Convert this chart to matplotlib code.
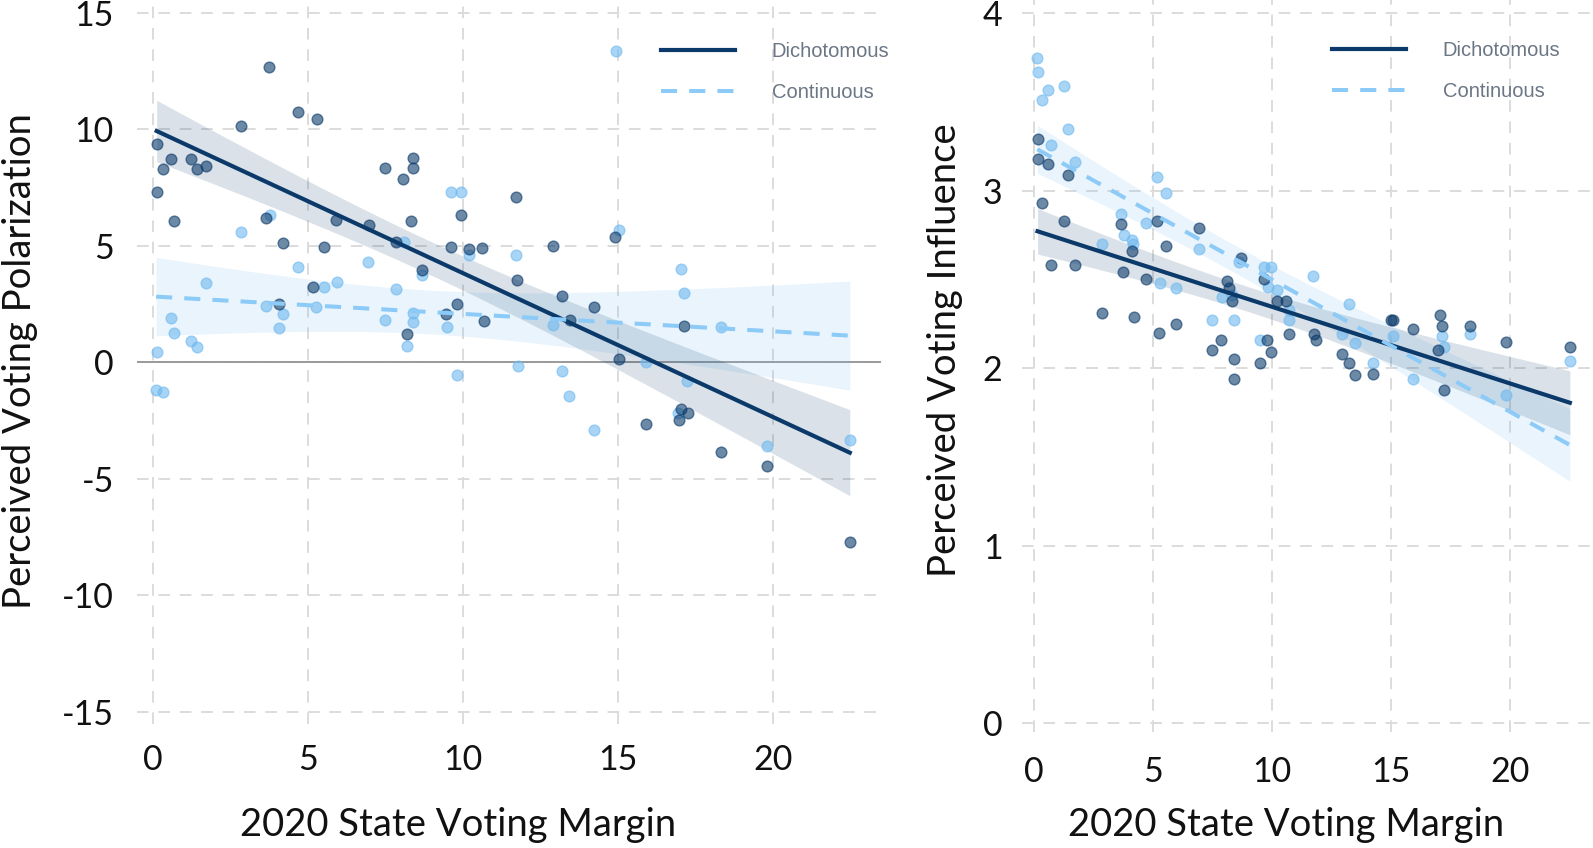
import matplotlib
matplotlib.use("Agg")
import matplotlib.pyplot as plt
import numpy as np

# ---- data ----
# left panel: perceived voting polarization vs 2020 state voting margin
pol_dich_x = [0.14, 0.31, 0.58, 1.22, 1.43, 1.70, 0.12, 0.68, 2.83, 3.75, 4.69, 5.28, 3.64,
              4.18, 5.53, 5.92, 6.96, 7.50, 8.07, 8.40, 8.40, 7.84, 8.32, 8.68, 9.63, 10.2,
              10.6, 9.94, 11.7, 11.75, 5.15, 12.91, 14.9, 13.2, 4.07, 9.80, 9.45, 10.69, 8.18,
              14.24, 13.45, 17.14, 15.03, 17.05, 17.25, 16.97, 15.89, 18.32, 19.82, 22.48]
pol_dich_y = [9.36, 8.29, 8.72, 8.72, 8.29, 8.45, 7.30, 6.06, 10.16, 12.67, 10.76, 10.45, 6.19,
              5.12, 4.97, 6.12, 5.90, 8.33, 7.86, 8.78, 8.33, 5.18, 6.06, 3.97, 4.97, 4.86,
              4.91, 6.33, 7.12, 3.54, 3.23, 5.00, 5.37, 2.87, 2.51, 2.51, 2.07, 1.78, 1.22,
              2.37, 1.82, 1.57, 0.15, -2.01, -2.18, -2.47, -2.65, -3.85, -4.43, -7.69]
pol_cont_x = [3.77, 2.83, 1.71, 4.69, 5.53, 5.95, 6.95, 7.84, 8.11, 9.63, 9.94, 10.19, 11.7,
              8.68, 14.93, 15.04, 17.03, 17.13, 3.64, 4.18, 5.26, 0.58, 0.68, 1.22, 1.43, 0.14,
              4.07, 7.50, 8.40, 8.40, 8.18, 9.47, 9.80, 0.10, 0.31, 11.78, 12.91, 18.32, 13.2,
              15.89, 17.24, 13.43, 14.24, 16.95, 19.82, 22.48]
pol_cont_y = [6.33, 5.59, 3.43, 4.11, 3.23, 3.47, 4.31, 3.15, 5.18, 7.30, 7.30, 4.61, 4.61,
              3.76, 13.38, 5.69, 4.03, 2.97, 2.44, 2.08, 2.40, 1.92, 1.25, 0.92, 0.68, 0.46,
              1.47, 1.82, 2.14, 1.75, 0.72, 1.51, -0.54, -1.18, -1.28, -0.15, 1.61, 1.54, -0.35,
              0.03, -0.78, -1.44, -2.90, -2.18, -3.57, -3.33]

# right panel: perceived voting influence vs 2020 state voting margin
inf_dich_x = [0.15, 0.18, 0.60, 1.44, 0.34, 1.26, 0.70, 1.72, 3.66, 4.10, 3.75, 4.69, 5.18,
              5.53, 6.95, 8.68, 8.10, 8.21, 9.68, 10.2, 10.6, 2.84, 4.20, 5.27, 5.95, 7.84,
              7.49, 8.42, 8.42, 9.50, 9.80, 9.96, 10.73, 8.33, 11.76, 11.85, 12.93, 13.24,
              13.49, 14.26, 14.99, 15.1, 15.91, 17.06, 17.16, 18.32, 16.96, 17.24, 19.83, 22.52]
inf_dich_y = [3.29, 3.18, 3.15, 3.09, 2.93, 2.83, 2.58, 2.58, 2.81, 2.66, 2.54, 2.50, 2.83,
              2.69, 2.79, 2.62, 2.49, 2.45, 2.50, 2.38, 2.38, 2.31, 2.29, 2.20, 2.25, 2.16,
              2.10, 2.05, 1.94, 2.03, 2.16, 2.09, 2.19, 2.38, 2.19, 2.16, 2.08, 2.03,
              1.96, 1.97, 2.27, 2.27, 2.22, 2.30, 2.24, 2.24, 2.10, 1.88, 2.15, 2.12]
inf_cont_x = [0.14, 0.18, 0.60, 0.34, 1.26, 1.44, 0.70, 1.72, 5.15, 5.53, 3.66, 4.69, 3.78,
              4.10, 4.15, 2.84, 6.95, 5.29, 5.95, 8.61, 9.68, 9.96, 9.82, 10.2, 7.89, 7.49,
              8.42, 9.50, 10.73, 10.73, 8.33, 11.72, 13.24, 12.93, 13.49, 14.26, 15.1, 15.93,
              17.16, 17.24, 18.32, 19.83, 22.52]
inf_cont_y = [3.75, 3.67, 3.57, 3.51, 3.59, 3.35, 3.26, 3.16, 3.08, 2.99, 2.87, 2.82, 2.75,
              2.72, 2.70, 2.70, 2.67, 2.48, 2.45, 2.60, 2.57, 2.57, 2.46, 2.44, 2.40, 2.27,
              2.27, 2.16, 2.27, 2.33, 2.41, 2.52, 2.36, 2.19, 2.14, 2.03, 2.18, 1.94,
              2.18, 2.12, 2.19, 1.85, 2.04]

series_labels = ["Dichotomous", "Continuous"]
x_ticks = [0, 5, 10, 15, 20]
pol_ticks = [-15, -10, -5, 0, 5, 10, 15]
inf_ticks = [0, 1, 2, 3, 4]

DARK = "#0b3a6a"
LIGHT = "#6fb9f0"
LIGHT_LINE = "#8ccaf7"
T95 = 2.01

plt.rcParams["font.family"] = ["Lato", "DejaVu Sans"]
plt.rcParams["axes.unicode_minus"] = False


def fit_band(x, y):
    x = np.asarray(x, float)
    y = np.asarray(y, float)
    slope, icpt = np.polyfit(x, y, 1)
    xs = np.linspace(x.min(), x.max(), 100)
    resid = y - (icpt + slope * x)
    s = np.sqrt(np.sum(resid ** 2) / (len(x) - 2))
    sxx = np.sum((x - x.mean()) ** 2)
    se = s * np.sqrt(1 / len(x) + (xs - x.mean()) ** 2 / sxx)
    fit = icpt + slope * xs
    return xs, fit, fit - T95 * se, fit + T95 * se


def draw_panel(ax, dx, dy, cx, cy, yticks, ylim, ylabel):
    for (x, y), col in [((cx, cy), LIGHT), ((dx, dy), DARK)]:
        xs, fit, lo, hi = fit_band(x, y)
        ax.fill_between(xs, lo, hi, color=col, alpha=0.15, lw=0, zorder=2)
    ax.scatter(cx, cy, s=60, color=LIGHT, alpha=0.6, edgecolor=LIGHT, lw=1, zorder=3)
    ax.scatter(dx, dy, s=60, color=DARK, alpha=0.6, edgecolor=DARK, lw=1, zorder=3)
    xs, fit, lo, hi = fit_band(dx, dy)
    ax.plot(xs, fit, color=DARK, lw=3.0, zorder=4, label=series_labels[0])
    xs, fit, lo, hi = fit_band(cx, cy)
    ax.plot(xs, fit, color=LIGHT_LINE, lw=2.9, ls=(0, (4, 3)), zorder=4, label=series_labels[1])

    ax.set_xlim(-0.5, 23.5)
    ax.set_ylim(*ylim)
    ax.set_xticks(x_ticks)
    ax.set_yticks(yticks)
    ax.grid(True, color="#dcdcdc", lw=1.4, ls=(0, (6, 5)))
    ax.set_axisbelow(True)
    for sp in ax.spines.values():
        sp.set_visible(False)
    ax.tick_params(length=0, labelsize=24.5, colors="#111111")
    ax.set_xlabel("2020 State Voting Margin", fontsize=27.5, color="#111111")
    ax.set_ylabel(ylabel, fontsize=27.5, color="#111111")
    ax.xaxis.label.set_va("center")
    ax.yaxis.label.set_va("center")
    ax.yaxis.label.set_ha("center")


fig = plt.figure(figsize=(15.93, 8.48), dpi=100)
ax1 = fig.add_axes([0.0863, 0.1467, 0.467, 0.8518])
ax2 = fig.add_axes([0.6416, 0.1368, 0.3585, 0.8632])

ax1.axhline(0, color="#9a9a9a", lw=1.4, zorder=1)
draw_panel(ax1, pol_dich_x, pol_dich_y, pol_cont_x, pol_cont_y, pol_ticks, (-15.5, 15.5),
           "Perceived Voting Polarization")
draw_panel(ax2, inf_dich_x, inf_dich_y, inf_cont_x, inf_cont_y, inf_ticks, (-0.05, 4.075),
           "Perceived Voting Influence")

ax1.tick_params(axis="x", pad=15)
ax1.tick_params(axis="y", pad=17)
ax2.tick_params(axis="x", pad=17)
ax2.tick_params(axis="y", pad=14)
ax1.xaxis.set_label_coords(0.431, -0.140)
ax1.yaxis.set_label_coords(-0.158, 0.502)
ax2.xaxis.set_label_coords(0.462, -0.127)
ax2.yaxis.set_label_coords(-0.135, 0.522)

for ax, x0 in [(ax1, 0.690), (ax2, 0.525)]:
    leg = ax.legend(loc="upper left", bbox_to_anchor=(x0, 0.958), frameon=False,
                    borderpad=0, handlelength=3.7, handletextpad=1.8, labelspacing=1.1,
                    prop={"family": "Liberation Sans", "size": 14.5})
    for t in leg.get_texts():
        t.set_color("#6b7685")

fig.savefig("out.png", dpi=100)
